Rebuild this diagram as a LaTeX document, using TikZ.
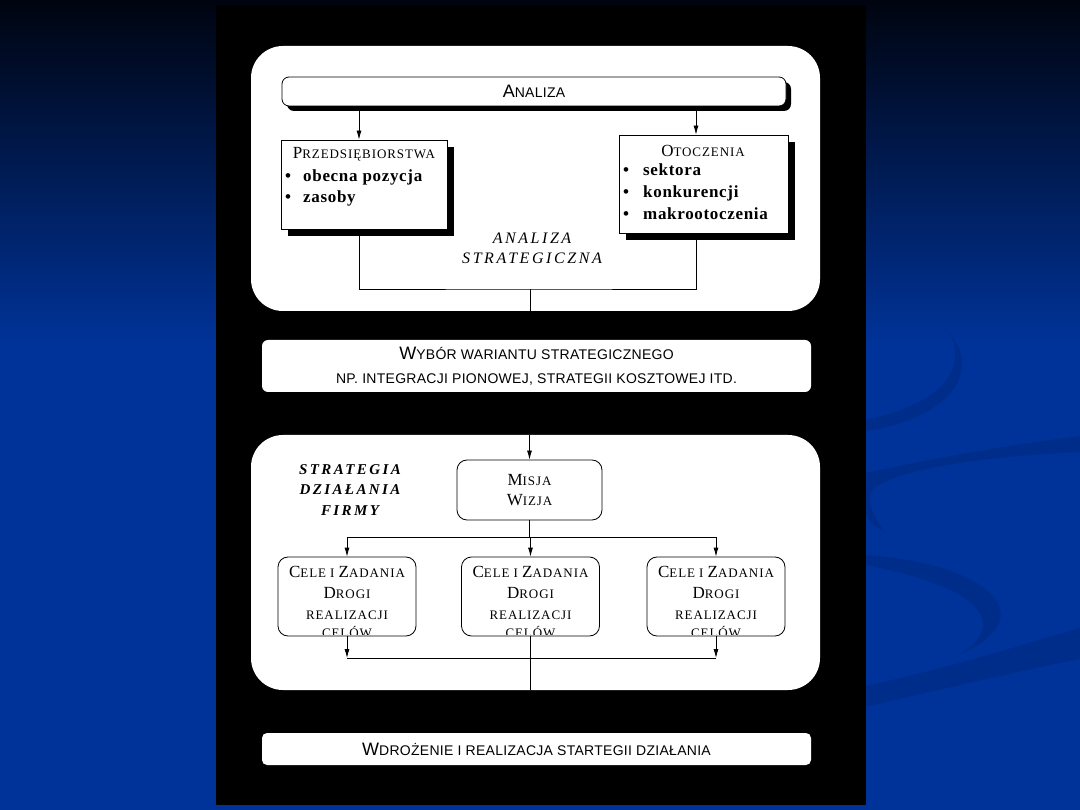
\documentclass[tikz,border=0pt]{standalone}
\usepackage{fontspec}
\setmainfont{Liberation Serif}
\newfontfamily\capsans[LetterSpace=2]{Liberation Sans}
\newfontfamily\capserif[LetterSpace=7]{Liberation Serif}
\newfontfamily\itemserif[LetterSpace=4]{Liberation Serif}
\newfontfamily\wideserif[LetterSpace=16]{Liberation Serif}
\usetikzlibrary{positioning, arrows.meta, shadows, calc}
\definecolor{bgtop}{HTML}{00040F}
\definecolor{bgblue}{HTML}{003399}
\definecolor{swoosh}{HTML}{002C8A}
\newcommand{\sfsc}[2]{{\fontsize{18}{20}\selectfont #1}{\fontsize{14}{20}\selectfont #2}}
\newcommand{\rmsc}[2]{{\fontsize{17}{20}\selectfont #1}{\fontsize{13}{20}\selectfont #2}}

\begin{document}
\begin{tikzpicture}[x=1pt,y=-1pt,>={Latex[length=9pt,width=5pt]},
  panel/.style={fill=white,rounded corners=32pt,inner sep=0pt},
  flatbox/.style={fill=white,rounded corners=6pt,inner sep=0pt,align=center,
                  font=\capsans\fontsize{14}{24}\selectfont},
  headbox/.style={draw,fill=white,rounded corners=7pt,line width=0.8pt,inner sep=0pt,
                  font=\capsans,drop shadow={fill=black,opacity=1,shadow xshift=5pt,shadow yshift=-5pt}},
  listbox/.style={draw,fill=white,line width=0.8pt,inner sep=0pt,
                  drop shadow={fill=black,opacity=1,shadow xshift=7pt,shadow yshift=-7pt}},
  taskbox/.style={draw,fill=white,rounded corners=10pt,line width=0.8pt,inner sep=0pt},
  boxtitle/.style={font=\capserif\fontsize{13}{20}\selectfont,inner sep=0pt,align=center},
  listitem/.style={font=\itemserif\bfseries\fontsize{17}{21}\selectfont,align=left,anchor=north west,inner sep=0pt},
  sidenote/.style={font=\wideserif\itshape\fontsize{16}{20}\selectfont,align=center,inner sep=0pt},
  link/.style={line width=0.8pt}]
  \useasboundingbox (0,0) rectangle (1080,810);
  \fill[bgblue] (0,0) rectangle (1080,810);
  \shade[top color=bgtop,bottom color=bgblue] (0,0) rectangle (1080,345);
  \fill[swoosh] (950,333) .. controls (985,378) and (940,422) .. (860,432) -- (860,421)
    .. controls (928,408) and (970,378) .. cycle;
  \fill[swoosh] (860,474) .. controls (950,455) and (1010,445) .. (1080,436) -- (1080,452)
    .. controls (1000,456) and (900,466) .. (872,490) .. controls (866,500) and (872,515) .. (885,532)
    .. controls (860,520) and (860,500) .. cycle;
  \fill[swoosh] (860,555) .. controls (980,560) and (1050,615) .. (960,654)
    .. controls (1000,630) and (1000,590) .. (860,564) -- cycle;
  \fill[swoosh] (860,687) .. controls (950,668) and (1010,648) .. (1080,628) -- (1080,659)
    .. controls (1000,675) and (940,690) .. (860,708) -- cycle;
  \fill[black] (216,5) rectangle (866,805);

  \node[panel,minimum width=569pt,minimum height=265pt] (upper) at (535.5,178.5) {};
  \node[panel,minimum width=569pt,minimum height=255pt] (lower) at (535.5,562.5) {};
  \node[flatbox,minimum width=549pt,minimum height=52pt] (choice) at (536.5,366)
    {\sfsc{W}{YBÓR WARIANTU STRATEGICZNEGO}\\NP. INTEGRACJI PIONOWEJ, STRATEGII KOSZTOWEJ ITD.};
  \node[flatbox,rounded corners=5pt,minimum width=549pt,minimum height=32pt] (deploy) at (536.5,749)
    {\sfsc{W}{DROŻENIE I REALIZACJA STARTEGII DZIAŁANIA}};

  \node[headbox,minimum width=504pt,minimum height=29pt] (analiza) at (534,91.5) {\sfsc{A}{NALIZA}};
  \node[listbox,minimum width=166pt,minimum height=89pt] (firm) at (364,184.5) {};
  \node[listbox,minimum width=169pt,minimum height=98pt] (env) at (703.5,184) {};
  \node[boxtitle] (firmt) at (364,154) {\rmsc{P}{RZEDSIĘBIORSTWA}};
  \node[listitem] (firml) at (285,170) {\makebox[18pt][l]{\textbullet}obecna pozycja\\
    \makebox[18pt][l]{\textbullet}zasoby};
  \node[boxtitle] (envt) at (703,151) {\rmsc{O}{TOCZENIA}};
  \node[listitem,font=\itemserif\bfseries\fontsize{17}{22}\selectfont] (envl) at (623,164)
    {\makebox[20pt][l]{\textbullet}sektora\\\makebox[20pt][l]{\textbullet}konkurencji\\
     \makebox[20pt][l]{\textbullet}makrootoczenia};
  \node[sidenote] (upnote) at (532,248) {ANALIZA\\STRATEGICZNA};

  \coordinate (pl) at (359,0);
  \coordinate (pr) at (696,0);
  \coordinate (ja) at (530,289);
  \draw[link,->] (analiza.south -| pl) -- (firm.north -| pl);
  \draw[link,->] (analiza.south -| pr) -- (env.north -| pr);
  \draw[link] (firm.south -| pl) |- (ja) -| (env.south -| pr);
  \draw[link] (ja) -- (upper.south -| ja);

  \node[taskbox,minimum width=145pt,minimum height=60pt,boxtitle]
    (mission) at (529.5,490) {\rmsc{M}{ISJA}\\\rmsc{W}{IZJA}};
  \node[sidenote,font=\wideserif\bfseries\itshape\fontsize{15}{20.5}\selectfont] (lownote) at (350,490)
    {STRATEGIA\\DZIAŁANIA\\FIRMY};
  \foreach \i/\x in {1/347,2/530.5,3/716} {
    \node[taskbox,minimum width=138pt,minimum height=79pt] (goal\i) at (\x,596.5) {};
    \begin{scope}
      \clip ($(goal\i.south west)+(0,-1.5)$) rectangle (goal\i.north east);
      \node[boxtitle,font=\capserif\fontsize{13}{21}\selectfont,anchor=north] (goal\i t)
        at ($(goal\i.north)+(0,9)$)
        {\rmsc{C}{ELE I }\rmsc{Z}{ADANIA}\\\rmsc{D}{ROGI}\\REALIZACJI\\[-2.5pt]CELÓW};
    \end{scope}
  }

  \coordinate (jb) at (530,537);
  \coordinate (jc) at (530,658);
  \draw[link,->] (mission.north |- lower.north) -- (mission.north);
  \draw[link] (mission.south) -- (mission.south |- jb);
  \draw[link] (goal1.north |- jb) -- (goal3.north |- jb);
  \foreach \i in {1,2,3} \draw[link,->] (goal\i.north |- jb) -- (goal\i.north);
  \draw[link,->] (goal1.south) -- (goal1.south |- jc);
  \draw[link,->] (goal3.south) -- (goal3.south |- jc);
  \draw[link] (goal1.south |- jc) -- (goal3.south |- jc);
  \draw[link] (goal2.south) -- (goal2.south |- lower.south);
\end{tikzpicture}
\end{document}
